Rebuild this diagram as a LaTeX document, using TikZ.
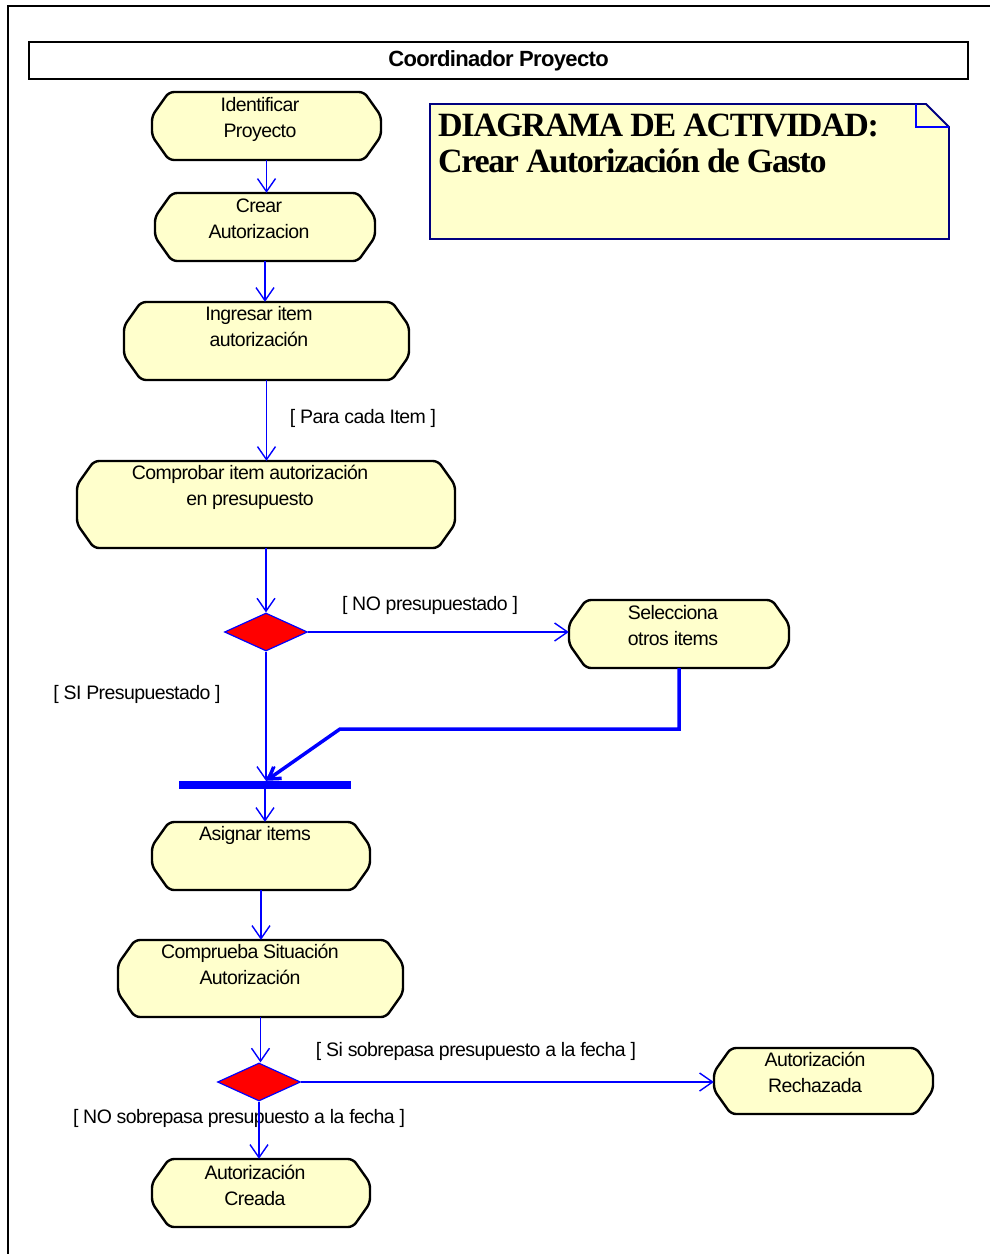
\documentclass[tikz,border=0pt]{standalone}
\usepackage{fontspec}
\setmainfont{Liberation Sans}
\newfontfamily\labfam[LetterSpace=-3]{Liberation Sans}
\newfontfamily\notefam[LetterSpace=-4]{Liberation Serif}
\usetikzlibrary{arrows.meta,shapes.geometric}
\definecolor{actfill}{HTML}{FFFFCC}
\definecolor{flowblue}{HTML}{0000FF}
\definecolor{notenavy}{HTML}{000080}
\definecolor{decred}{HTML}{FF0000}
\tikzset{
  actshape/.style={fill=actfill, draw=black, line width=2.4pt, rounded corners=5pt},
  actbox/.style={inner sep=0pt, draw=none, fill=none},
  acttext/.style={font=\labfam\fontsize{19.5}{26}\selectfont, align=center, inner sep=0pt},
  lab/.style={font=\labfam\fontsize{19.5}{26}\selectfont, inner sep=0pt, text=black},
  flow/.style={draw=flowblue, line width=1.4pt, -{Straight Barb[length=13pt,width=18pt]}},
  flowthick/.style={draw=flowblue, line width=3.5pt, -{Straight Barb[length=11pt,width=14pt]}},
  decision/.style={diamond, draw=flowblue, fill=decred, line width=1.2pt, inner sep=0pt, minimum width=83pt, minimum height=38pt},
  syncbar/.style={rectangle, fill=flowblue, draw=none, inner sep=0pt, minimum width=172pt, minimum height=8pt},
  header/.style={rectangle, draw=black, fill=white, line width=1.4pt, minimum width=939pt, minimum height=37pt, inner sep=0pt, font=\labfam\bfseries\fontsize{22}{26}\selectfont},
  notebox/.style={fill=actfill, draw=notenavy, line width=1.8pt},
  notefold/.style={draw=flowblue, line width=1.2pt},
  notetext/.style={font=\notefam\bfseries\fontsize{34}{36}\selectfont, align=left, inner sep=0pt},
  frame/.style={draw=black, line width=2pt}
}
\newcommand\actnode[8]{%
  \path[actshape] ({(#2+#4)/2},#3) -- ({#4-17},#3) -- (#4,{#3+24}) -- (#4,{#5-24}) -- ({#4-17},#5) -- ({#2+17},#5) -- (#2,{#5-24}) -- (#2,{#3+24}) -- ({#2+17},#3) -- cycle;
  \node[actbox, minimum width={#4-#2}, minimum height={#5-#3}] (#1) at ({(#2+#4)/2},{(#3+#5)/2}) {};
  \node[acttext] (#1-text) at (#6,#7) {#8};
}
\begin{document}
\begin{tikzpicture}[x=1pt,y=-1pt]
\useasboundingbox[fill=white] (0,0) rectangle (989,1254);
\draw[frame] (8,1256) -- (8,6) -- (991,6);
\node[header] (hdr) at (498.5,60.5) {Coordinador Proyecto};
% note
\path[notebox] (430,104) -- (926,104) -- (949,127) -- (949,239) -- (430,239) -- cycle;
\draw[notefold] (916,104) -- (916,127) -- (949,127);
\node[notetext, anchor=north west] (note) at (438,114) {DIAGRAMA DE ACTIVIDAD:\\Crear Autorización de Gasto};
% activities
\actnode{idp}{152}{92}{381}{160}{260}{119}{Identificar\\Proyecto}
\actnode{crear}{155}{193}{375}{261}{259}{219}{Crear\\Autorizacion}
\actnode{ingr}{124}{302}{409}{380}{259}{327}{Ingresar item\\autorización}
\actnode{comp}{77}{461}{455}{548}{250}{487}{Comprobar item autorización\\en presupuesto}
\actnode{sel}{569}{600}{789}{668}{673}{626}{Selecciona\\otros items}
\actnode{asig}{152}{822}{370}{890}{255}{835}{Asignar items}
\actnode{csit}{118}{940}{403}{1017}{250}{964}{Comprueba Situación\\Autorización}
\actnode{rech}{714}{1048}{933}{1114}{815}{1072}{Autorización\\Rechazada}
\actnode{creada}{152}{1159}{370}{1227}{255}{1185}{Autorización\\Creada}
% decisions and bar
\node[decision] (d1) at (266,632) {};
\node[decision] (d2) at (259,1082) {};
\node[syncbar] (bar) at (265,785) {};
\coordinate (bend) at (340,729);
% connectors
\draw[flow] (idp.south) -- (idp.south |- crear.north);
\draw[flow] (crear.south) -- (crear.south |- ingr.north);
\draw[flow] (ingr.south) -- (ingr.south |- comp.north);
\draw[flow] (comp.south) -- (comp.south |- d1.north);
\draw[flow] (d1.east) -- (d1.east -| sel.west);
\draw[flow] (d1.south) -- (d1.south |- bar.north);
\draw[flowthick] (sel.south) |- (bend) -- (d1.south |- bar.north);
\draw[flow] (bar.south) -- (bar.south |- asig.north);
\draw[flow] (asig.south) -- (asig.south |- csit.north);
\draw[flow] (csit.south) -- (csit.south |- d2.north);
\draw[flow] (d2.east) -- (d2.east -| rech.west);
% labels
\node[lab] (l1) at (363,418) {[ Para cada Item ]};
\node[lab] (l2) at (430,605) {[ NO presupuestado ]};
\node[lab] (l3) at (137,694) {[ SI Presupuestado ]};
\node[lab] (l4) at (476,1051) {[ Si sobrepasa presupuesto a la fecha ]};
\node[lab] (l5) at (239,1118) {[ NO sobrepasa presupuesto a la fecha ]};
\draw[flow] (d2.south) -- (d2.south |- creada.north);
\end{tikzpicture}
\end{document}
